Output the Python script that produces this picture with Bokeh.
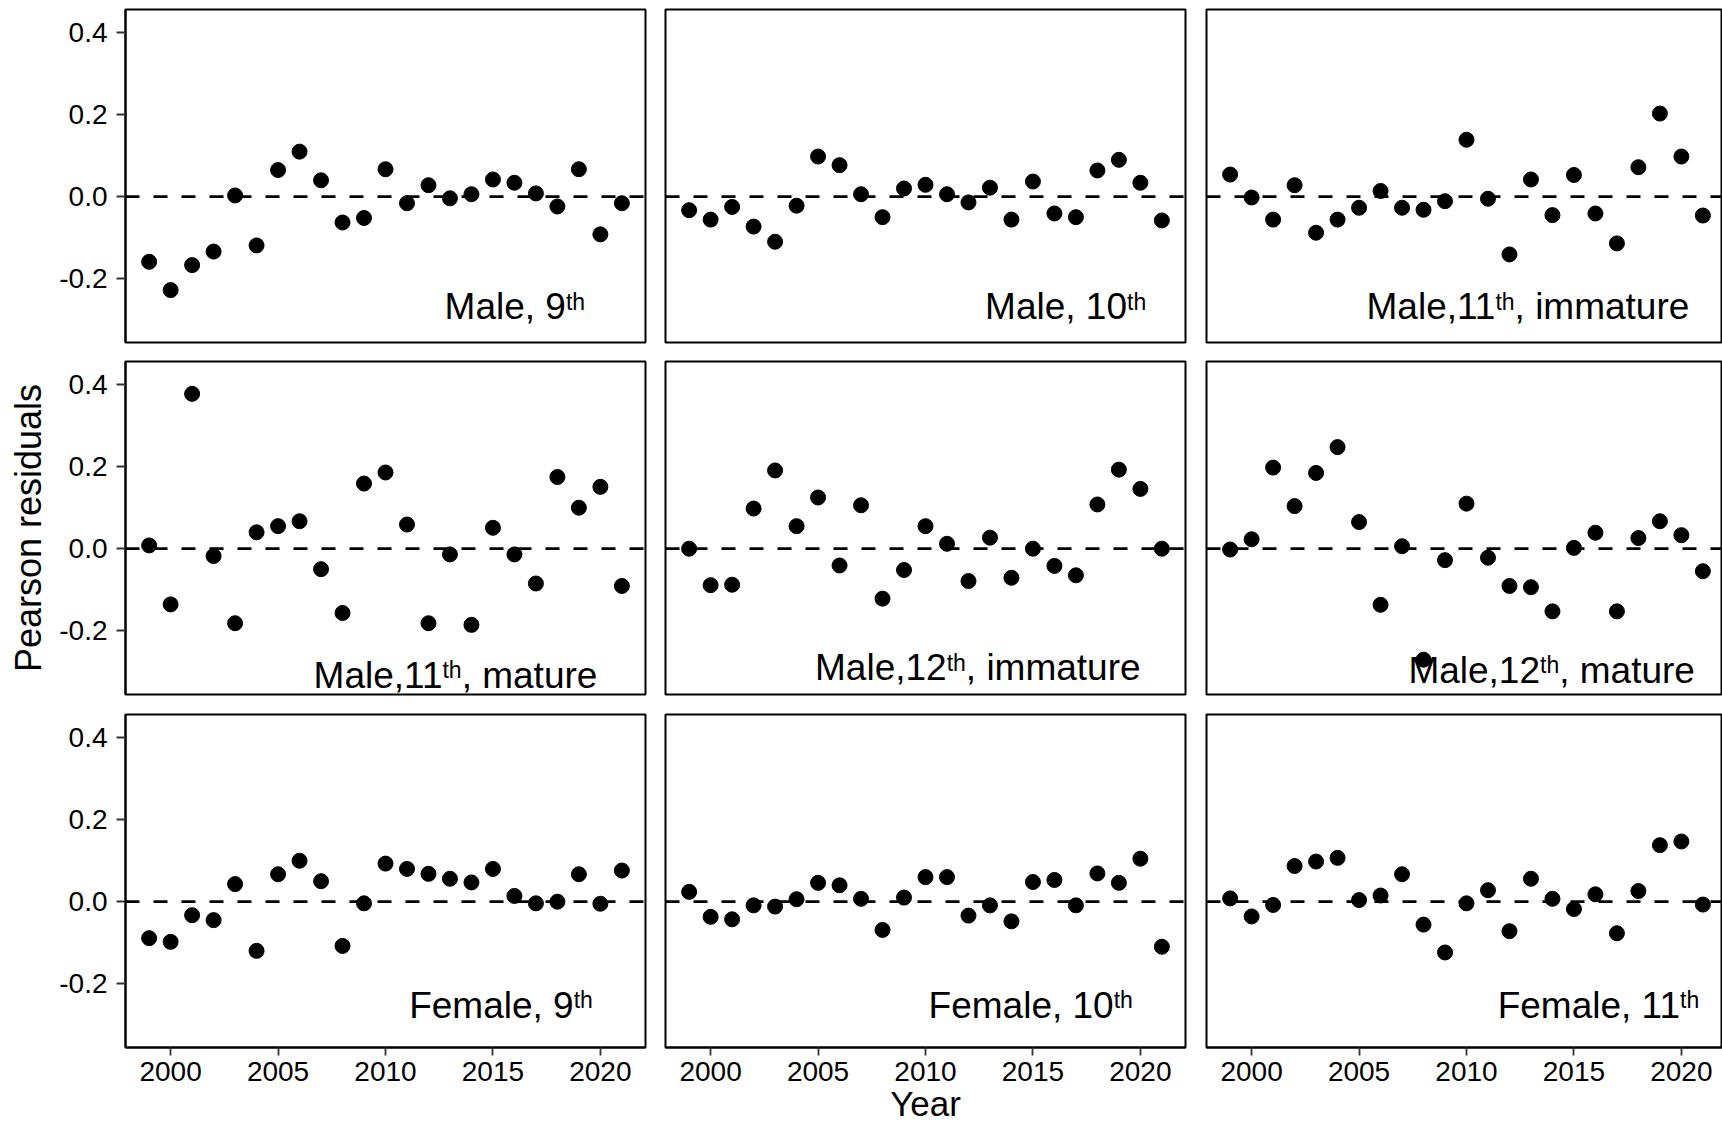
from bokeh.plotting import figure
from bokeh.layouts import column, row
from bokeh.models import Range1d, FixedTicker, PrintfTickFormatter, Span, Label
from bokeh.embed import file_html
from bokeh.resources import INLINE

years = list(range(1999, 2022))

male_9th = [-0.159, -0.228, -0.167, -0.134, 0.003, -0.119, 0.065, 0.110, 0.040, -0.063, -0.052, 0.067,
            -0.016, 0.028, -0.004, 0.006, 0.042, 0.034, 0.008, -0.024, 0.067, -0.092, -0.016]
male_10th = [-0.033, -0.056, -0.025, -0.073, -0.110, -0.022, 0.098, 0.077, 0.006, -0.050, 0.020, 0.029,
             0.006, -0.014, 0.022, -0.056, 0.037, -0.041, -0.050, 0.064, 0.090, 0.034, -0.058]
male_11th_immature = [0.054, -0.002, -0.056, 0.028, -0.088, -0.056, -0.027, 0.014, -0.027, -0.032, -0.011, 0.139,
                      -0.005, -0.141, 0.042, -0.045, 0.053, -0.041, -0.114, 0.072, 0.203, 0.098, -0.046]
male_11th_mature = [0.008, -0.136, 0.378, -0.018, -0.182, 0.040, 0.055, 0.067, -0.050, -0.157, 0.159, 0.186,
                    0.059, -0.182, -0.014, -0.186, 0.051, -0.014, -0.085, 0.175, 0.100, 0.151, -0.091]
male_12th_immature = [0.000, -0.089, -0.088, 0.098, 0.191, 0.055, 0.125, -0.041, 0.106, -0.122, -0.052, 0.055,
                      0.012, -0.079, 0.027, -0.071, 0.000, -0.042, -0.065, 0.108, 0.193, 0.146, 0.000]
male_12th_mature = [-0.002, 0.023, 0.198, 0.104, 0.185, 0.248, 0.065, -0.137, 0.006, -0.271, -0.028, 0.110,
                    -0.022, -0.091, -0.094, -0.153, 0.002, 0.039, -0.153, 0.026, 0.067, 0.033, -0.055]
female_9th = [-0.089, -0.098, -0.033, -0.045, 0.043, -0.120, 0.067, 0.100, 0.050, -0.108, -0.004, 0.093,
              0.080, 0.068, 0.056, 0.047, 0.080, 0.014, -0.004, 0.000, 0.067, -0.005, 0.076]
female_10th = [0.024, -0.037, -0.043, -0.009, -0.012, 0.006, 0.046, 0.040, 0.007, -0.069, 0.010, 0.060,
               0.060, -0.034, -0.009, -0.048, 0.048, 0.053, -0.009, 0.069, 0.046, 0.105, -0.110]
female_11th = [0.008, -0.036, -0.008, 0.087, 0.098, 0.107, 0.004, 0.015, 0.067, -0.056, -0.124, -0.004,
               0.028, -0.072, 0.056, 0.007, -0.018, 0.018, -0.077, 0.026, 0.138, 0.147, -0.007]

series = [male_9th, male_10th, male_11th_immature,
          male_11th_mature, male_12th_immature, male_12th_mature,
          female_9th, female_10th, female_11th]

label_main = ["Male, 9", "Male, 10", "Male,11", "Male,11", "Male,12", "Male,12",
              "Female, 9", "Female, 10", "Female, 11"]
label_sup = ["th"] * 9
label_tail = ["", "", ", immature", ", mature", ", immature", ", mature", "", "", ""]
label_x = [2019.29, 2020.27, 2020.37, 2019.86, 2020.01, 2020.63, 2019.65, 2019.65, 2020.83]
label_y = [-0.300, -0.300, -0.300, -0.341, -0.322, -0.329, -0.285, -0.285, -0.285]

y_ticks = [-0.2, 0.0, 0.2, 0.4]
x_ticks = [2000, 2005, 2010, 2015, 2020]

X0, X1 = 1997.9, 2022.1
Y0, Y1 = -0.356, 0.457
FW, FW3, FH = 520, 516, 333
FONT = "Liberation Sans"
MAIN_PX, SUP_PX, SUP_RAISE_PX = 37, 23, 10
MID_TO_BASE = 0.3465

CW = {',': 0.278, ' ': 0.278, 'i': 0.222, 'm': 0.833, 'a': 0.556, 't': 0.278,
      'u': 0.556, 'r': 0.333, 'e': 0.556, 'h': 0.556}


def tw(s, size):
    return sum(CW.get(ch, 0.556) for ch in s) * size


def style_axis(ax, tick_out, standoff):
    ax.major_tick_in = 0
    ax.major_tick_out = tick_out
    ax.minor_tick_line_color = None
    ax.major_tick_line_color = "#333333"
    ax.major_tick_line_width = 1.8
    ax.axis_line_color = "black"
    ax.axis_line_width = 2
    ax.major_label_text_font = FONT
    ax.major_label_text_font_size = "28px"
    ax.major_label_text_color = "black"
    ax.major_label_standoff = standoff


def make_panel(i):
    r, c = divmod(i, 3)
    left = [125, 10, 11][c]
    right = [10, 10, 0][c]
    top = [9, 9, 10][r]
    bottom = 85 if r == 2 else 10
    fw = FW3 if c == 2 else FW
    x_end = X0 + (X1 - X0) * fw / FW
    p = figure(frame_width=fw, frame_height=FH,
               x_range=Range1d(X0, x_end), y_range=Range1d(Y0, Y1),
               output_backend="svg", toolbar_location=None,
               x_axis_location="below" if r == 2 else None,
               y_axis_location="left" if c == 0 else None,
               min_border_left=left, min_border_right=right,
               min_border_top=top, min_border_bottom=bottom,
               background_fill_color="white", border_fill_color="white",
               outline_line_color="black", outline_line_width=2)
    p.xgrid.visible = False
    p.ygrid.visible = False

    if c == 0:
        ax = p.yaxis[0]
        ax.ticker = FixedTicker(ticks=y_ticks)
        ax.formatter = PrintfTickFormatter(format="%.1f")
        style_axis(ax, 9, 9)
        if r == 1:
            ax.axis_label = "Pearson residuals"
            ax.axis_label_text_font = FONT
            ax.axis_label_text_font_size = "36px"
            ax.axis_label_text_font_style = "normal"
            ax.axis_label_text_color = "black"
            ax.axis_label_standoff = 7
    if r == 2:
        ax = p.xaxis[0]
        ax.ticker = FixedTicker(ticks=x_ticks)
        ax.formatter = PrintfTickFormatter(format="%d")
        style_axis(ax, 8, 6)
        if c == 1:
            ax.axis_label = "Year"
            ax.axis_label_text_font = FONT
            ax.axis_label_text_font_size = "35px"
            ax.axis_label_text_font_style = "normal"
            ax.axis_label_text_color = "black"
            ax.axis_label_standoff = 0

    p.add_layout(Span(location=0, dimension="width", line_color="black",
                      line_dash="14 14", line_width=2.8))
    p.scatter(years, series[i], size=15, color="black")

    du = (Y1 - Y0) / FH
    lx, ly = label_x[i], label_y[i]
    tail, sup, main = label_tail[i], label_sup[i], label_main[i]
    main_y = ly + MID_TO_BASE * MAIN_PX * du
    sup_y = ly + (SUP_RAISE_PX + MID_TO_BASE * SUP_PX) * du
    tail_w = tw(tail, MAIN_PX)
    sup_w = tw(sup, SUP_PX)
    common = dict(text_align="right", text_baseline="middle", text_font=FONT, text_color="black")
    if tail:
        p.add_layout(Label(x=lx, y=main_y, text=tail, text_font_size=f"{MAIN_PX}px", **common))
    p.add_layout(Label(x=lx, y=sup_y, text=sup, x_offset=-tail_w,
                       text_font_size=f"{SUP_PX}px", **common))
    p.add_layout(Label(x=lx, y=main_y, text=main, x_offset=-(tail_w + sup_w),
                       text_font_size=f"{MAIN_PX}px", **common))
    return p


panels = [make_panel(i) for i in range(9)]
layout = column(row(*panels[0:3]), row(*panels[3:6]), row(*panels[6:9]))

open("out.html", "w").write(file_html(layout, INLINE))
